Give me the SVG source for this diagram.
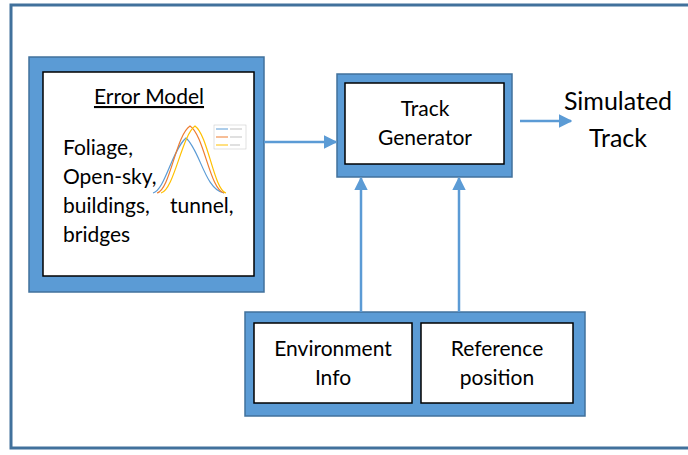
<svg xmlns="http://www.w3.org/2000/svg" width="688" height="455" viewBox="0 0 688 455">
<style>
.frame{fill:#5B9BD5;stroke:#41719C;stroke-width:1.5}
.inner{fill:#fff;stroke:#000;stroke-width:1.5}
.t{font-family:Lato,"Open Sans",sans-serif;fill:#000}
.con{stroke:#5B9BD5;stroke-width:2.5;fill:none}
</style>
<defs>
<marker id="ah" viewBox="0 0 10 10" refX="9" refY="5" markerWidth="5.5" markerHeight="5.5" markerUnits="strokeWidth" orient="auto">
<path d="M0,0 L10,5 L0,10 z" fill="#5B9BD5"/>
</marker>
</defs>
<rect x="0" y="0" width="688" height="455" fill="#fff"/>
<rect x="11" y="5" width="690" height="443" fill="#fff" stroke="#41719C" stroke-width="3"/>
<g id="error-model">
<rect class="frame" x="29" y="57" width="235" height="235"/>
<rect class="inner" x="43" y="72" width="211" height="204"/>
<text class="t" x="149" y="104" font-size="21" text-anchor="middle" text-decoration="underline">Error Model</text>
<text class="t" x="63" y="155" font-size="21">Foliage,</text>
<text class="t" x="63" y="184" font-size="21">Open-sky,</text>
<text class="t" x="63" y="213" font-size="21">buildings,</text>
<text class="t" x="170" y="213" font-size="21">tunnel,</text>
<text class="t" x="63" y="242" font-size="21">bridges</text>
<g fill="none" stroke-width="1.2">
<path d="M153,193 C165,190 172,150 186,138 C200,150 205,190 224,193" stroke="#5B9BD5"/>
<path d="M157,193 C170,190 176,135 190,126 C204,135 210,190 224,193" stroke="#ED7D31"/>
<path d="M161,193 C174,190 182,135 195,126 C208,135 214,190 226,193" stroke="#FFC000"/>
</g>
<rect x="214" y="125" width="32" height="24" fill="#fff" stroke="#ccc" stroke-width="0.6"/>
<line x1="216" y1="129" x2="228" y2="129" stroke="#5B9BD5" stroke-width="1"/>
<line x1="216" y1="137" x2="228" y2="137" stroke="#ED7D31" stroke-width="1"/>
<line x1="216" y1="145" x2="228" y2="145" stroke="#FFC000" stroke-width="1"/>
<g stroke="#999" stroke-width="0.6"><line x1="230" y1="129" x2="242" y2="129"/><line x1="230" y1="137" x2="242" y2="137"/><line x1="230" y1="145" x2="240" y2="145"/></g>
</g>
<g id="track-generator">
<rect class="frame" x="337" y="74" width="175" height="103"/>
<rect class="inner" x="345" y="83" width="159" height="81"/>
<text class="t" x="425" y="116" font-size="21" text-anchor="middle">Track</text>
<text class="t" x="425" y="145" font-size="21" text-anchor="middle">Generator</text>
</g>
<g id="simulated-track">
<text class="t" x="618" y="110" font-size="25" text-anchor="middle">Simulated</text>
<text class="t" x="618" y="147" font-size="25" text-anchor="middle">Track</text>
</g>
<g id="inputs">
<rect class="frame" x="245" y="312" width="340" height="104"/>
<g id="environment-info">
<rect class="inner" x="254" y="323" width="158" height="80"/>
<text class="t" x="333" y="356" font-size="21" text-anchor="middle">Environment</text>
<text class="t" x="333" y="385" font-size="21" text-anchor="middle">Info</text>
</g>
<g id="reference-position">
<rect class="inner" x="421" y="323" width="152" height="80"/>
<text class="t" x="497" y="356" font-size="21" text-anchor="middle">Reference</text>
<text class="t" x="497" y="385" font-size="21" text-anchor="middle">position</text>
</g>
</g>
<g id="connectors">
<line class="con" x1="264" y1="142" x2="336" y2="142" marker-end="url(#ah)"/>
<line class="con" x1="520" y1="121" x2="571" y2="121" marker-end="url(#ah)"/>
<line class="con" x1="361" y1="312" x2="361" y2="178" marker-end="url(#ah)"/>
<line class="con" x1="459" y1="312" x2="459" y2="178" marker-end="url(#ah)"/>
</g>
</svg>
